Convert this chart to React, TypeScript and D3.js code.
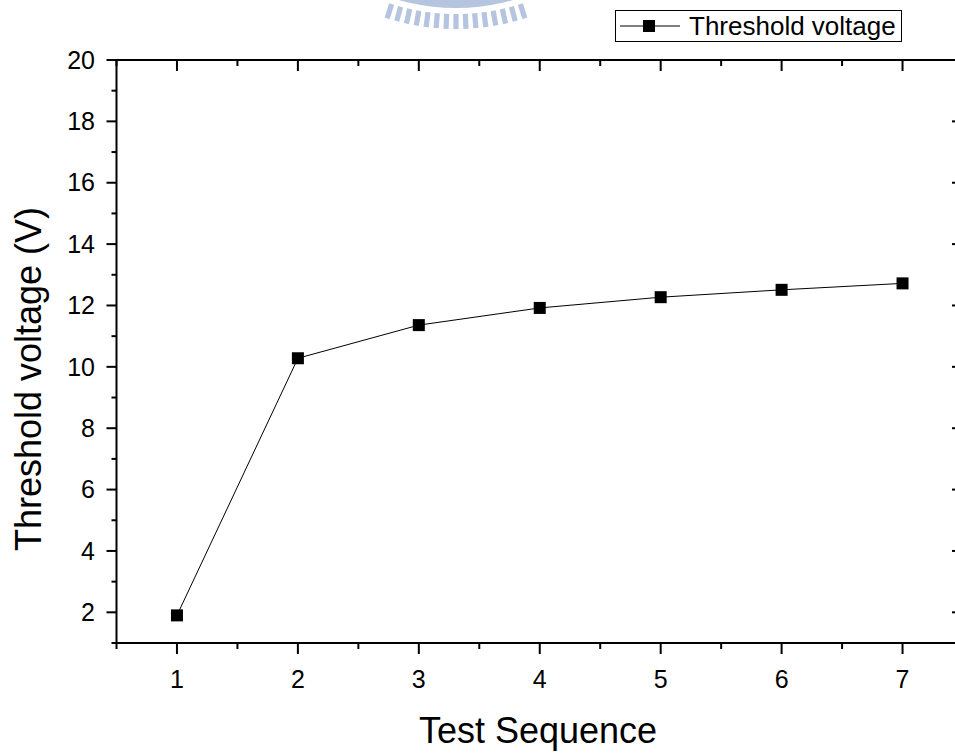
import React from "react";
import * as d3 from "d3";

const testSequence = [1, 2, 3, 4, 5, 6, 7];
const thresholdVoltage = [1.9, 10.28, 11.36, 11.92, 12.27, 12.51, 12.72];
const xMajorTicks = [1, 2, 3, 4, 5, 6, 7];
const xMinorTicks = [0.5, 1.5, 2.5, 3.5, 4.5, 5.5, 6.5, 7.5];
const yMajorTicks = [2, 4, 6, 8, 10, 12, 14, 16, 18, 20];
const yMinorTicks = [1, 3, 5, 7, 9, 11, 13, 15, 17, 19];

const W = 955;
const H = 754;
const FONT = "'Liberation Sans', Arial, Helvetica, sans-serif";

export default function App() {
  const x = d3.scaleLinear().domain([0.5, 7.5]).range([116.5, 963]);
  const y = d3.scaleLinear().domain([1, 20]).range([643, 60]);
  const line = d3
    .line<number>()
    .x((_, i) => x(testSequence[i]))
    .y((d) => y(d));

  // watermark
  const wcx = 456;
  const wcy = -200;
  const arcBand = d3.arc()({
    innerRadius: 197,
    outerRadius: 208,
    startAngle: Math.PI - 0.45,
    endAngle: Math.PI + 0.45,
  } as any) as string;
  const wTicks = d3.range(-7, 7.5, 1).map((k) => k * 2.5);

  const left = x(0.5);
  const right = x(7.5);
  const top = y(20);
  const bottom = y(1);

  return (
    <svg
      width={W}
      height={H}
      style={{ position: "absolute", left: 0, top: 0, background: "#fff" }}
      fontFamily={FONT}
    >
      <rect x={0} y={0} width={W} height={H} fill="#fff" />
      {/* watermark */}
      <g transform={`translate(${wcx},${wcy})`} fill="#b5c4df">
        <path d={arcBand} />
        {wTicks.map((a, i) => (
          <rect
            key={i}
            x={-2.6}
            y={214}
            width={5.2}
            height={15}
            transform={`rotate(${-a})`}
          />
        ))}
      </g>

      {/* data line */}
      <path d={line(thresholdVoltage) as string} fill="none" stroke="#000" strokeWidth={1} />
      {thresholdVoltage.map((v, i) => (
        <rect
          key={i}
          x={x(testSequence[i]) - 6}
          y={y(v) - 6}
          width={12}
          height={12}
          fill="#000"
        />
      ))}

      {/* axes frame */}
      <g stroke="#000" strokeWidth={2} fill="none">
        <line x1={left} x2={right} y1={top} y2={top} />
        <line x1={left} x2={right} y1={bottom} y2={bottom} />
        <line x1={left} x2={left} y1={top - 1} y2={bottom + 1} />
        <line x1={right} x2={right} y1={top - 1} y2={bottom + 1} />
        {/* bottom ticks outward */}
        {xMajorTicks.map((t) => (
          <line key={"bM" + t} x1={x(t)} x2={x(t)} y1={bottom} y2={bottom + 11} />
        ))}
        {xMinorTicks.map((t) => (
          <line key={"bm" + t} x1={x(t)} x2={x(t)} y1={bottom} y2={bottom + 6} />
        ))}
        {/* top ticks inward */}
        {xMajorTicks.map((t) => (
          <line key={"tM" + t} x1={x(t)} x2={x(t)} y1={top} y2={top + 11} />
        ))}
        {xMinorTicks.map((t) => (
          <line key={"tm" + t} x1={x(t)} x2={x(t)} y1={top} y2={top + 6} />
        ))}
        {/* left ticks outward */}
        {yMajorTicks.map((t) => (
          <line key={"lM" + t} x1={left} x2={left - 10} y1={y(t)} y2={y(t)} />
        ))}
        {yMinorTicks.map((t) => (
          <line key={"lm" + t} x1={left} x2={left - 5} y1={y(t)} y2={y(t)} />
        ))}
        {/* right ticks inward */}
        {yMajorTicks.map((t) => (
          <line key={"rM" + t} x1={right} x2={right - 11} y1={y(t)} y2={y(t)} />
        ))}
        {yMinorTicks.map((t) => (
          <line key={"rm" + t} x1={right} x2={right - 6} y1={y(t)} y2={y(t)} />
        ))}
      </g>

      {/* tick labels */}
      <g fontSize={25} fill="#000">
        {xMajorTicks.map((t) => (
          <text key={"xl" + t} x={x(t)} y={688} textAnchor="middle">
            {t}
          </text>
        ))}
        {yMajorTicks.map((t) => (
          <text key={"yl" + t} x={95} y={y(t)} dy="0.35em" textAnchor="end">
            {t}
          </text>
        ))}
      </g>

      {/* axis titles */}
      <text x={538} y={743} textAnchor="middle" fontSize={36} fill="#000">
        Test Sequence
      </text>
      <text
        transform={`translate(41,379) rotate(-90)`}
        textAnchor="middle"
        fontSize={36}
        fill="#000"
      >
        Threshold voltage (V)
      </text>

      {/* legend */}
      <rect x={615.5} y={10.5} width={286} height={31} fill="#fff" stroke="#000" strokeWidth={1} />
      <line x1={620} x2={680} y1={26} y2={26} stroke="#000" strokeWidth={1} />
      <rect x={643} y={20} width={12} height={12} fill="#000" />
      <text x={689} y={35} fontSize={26} fill="#000">
        Threshold voltage
      </text>
    </svg>
  );
}
